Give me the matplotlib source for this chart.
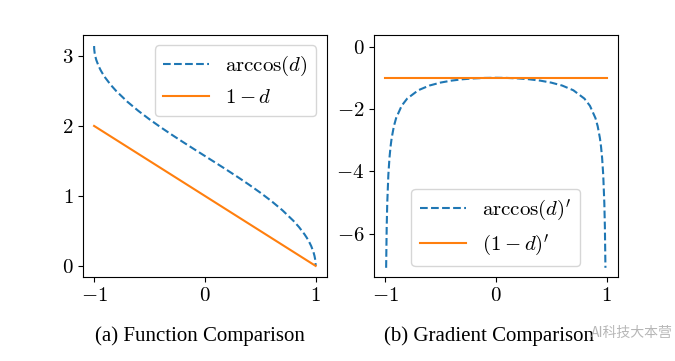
import matplotlib
matplotlib.use("Agg")
import matplotlib.pyplot as plt

plt.rcParams['mathtext.fontset'] = 'cm'
plt.rcParams['font.family'] = ['Liberation Serif', 'DejaVu Serif']

# left panel data
d_func = [-1.0, -0.999, -0.995, -0.99, -0.98, -0.96, -0.94, -0.92, -0.9, -0.85, -0.8,
          -0.7, -0.6, -0.5, -0.4, -0.3, -0.2, -0.1, 0.0, 0.1, 0.2, 0.3, 0.4, 0.5, 0.6,
          0.7, 0.8, 0.85, 0.9, 0.92, 0.94, 0.96, 0.98, 0.99, 0.995, 0.999, 1.0]
arccos_vals = [3.1416, 3.0969, 3.0416, 3.0001, 2.9413, 2.8578, 2.7934, 2.7389, 2.6906,
               2.5868, 2.4981, 2.3462, 2.2143, 2.0944, 1.9823, 1.8755, 1.7722, 1.6710,
               1.5708, 1.4706, 1.3694, 1.2661, 1.1593, 1.0472, 0.9273, 0.7954, 0.6435,
               0.5548, 0.4510, 0.4027, 0.3482, 0.2838, 0.2003, 0.1415, 0.1000, 0.0447, 0.0]
linear_x = [-1.0, 1.0]
linear_vals = [2.0, 0.0]

# right panel data
d_grad = [-0.99, -0.985, -0.98, -0.97, -0.96, -0.95, -0.94, -0.92, -0.9, -0.85, -0.8,
          -0.7, -0.6, -0.5, -0.4, -0.3, -0.2, -0.1, 0.0, 0.1, 0.2, 0.3, 0.4, 0.5, 0.6,
          0.7, 0.8, 0.85, 0.9, 0.92, 0.94, 0.95, 0.96, 0.97, 0.98, 0.985, 0.99]
grad_arccos = [-7.089, -5.795, -5.025, -4.113, -3.571, -3.203, -2.931, -2.552, -2.294,
               -1.898, -1.667, -1.400, -1.250, -1.155, -1.091, -1.048, -1.021, -1.005,
               -1.000, -1.005, -1.021, -1.048, -1.091, -1.155, -1.250, -1.400, -1.667,
               -1.898, -2.294, -2.552, -2.931, -3.203, -3.571, -4.113, -5.025, -5.795, -7.089]
grad_linear_x = [-1.0, 1.0]
grad_linear = [-1.0, -1.0]

captions = ["(a) Function Comparison", "(b) Gradient Comparison"]
xticks = [-1, 0, 1]
xtick_labels = [r'$-1$', r'$0$', r'$1$']
yticks_left = [0, 1, 2, 3]
yticks_left_labels = [r'$0$', r'$1$', r'$2$', r'$3$']
yticks_right = [0, -2, -4, -6]
yticks_right_labels = [r'$0$', r'$-2$', r'$-4$', r'$-6$']

fig = plt.figure(figsize=(6.75, 3.61), dpi=100)
ax1 = fig.add_axes([0.123, 0.233, 0.361, 0.67])
ax2 = fig.add_axes([0.554, 0.233, 0.361, 0.67])

blue = '#1f77b4'
orange = '#ff7f0e'

ax1.plot(d_func, arccos_vals, '--', color=blue, lw=1.5, label=r'$\arccos(d)$')
ax1.plot(linear_x, linear_vals, '-', color=orange, lw=1.5, label=r'$1-d$')
ax1.set_xlim(-1.1, 1.1)
ax1.set_ylim(-0.157, 3.299)
ax1.set_yticks(yticks_left, yticks_left_labels)
ax1.legend(loc='upper right', fontsize=15, handlelength=2.2)

ax2.plot(d_grad, grad_arccos, '--', color=blue, lw=1.5, label=r"$\arccos(d)'$")
ax2.plot(grad_linear_x, grad_linear, '-', color=orange, lw=1.5, label=r"$(1-d)'$")
ax2.set_xlim(-1.1, 1.1)
ax2.set_ylim(-7.38, 0.37)
ax2.set_yticks(yticks_right, yticks_right_labels)
ax2.legend(loc='lower center', fontsize=15, handlelength=2.2, labelspacing=0.45)

for ax in (ax1, ax2):
    ax.set_xticks(xticks, xtick_labels)
    ax.tick_params(labelsize=15)

fig.text(0.296, 0.069, captions[0], ha='center', va='center', fontsize=15)
fig.text(0.725, 0.069, captions[1], ha='center', va='center', fontsize=15)
fig.text(0.936, 0.078, "AI科技大本营", ha='center', va='center', fontsize=10,
         color='#aaaaaa', alpha=0.85, family=['Noto Sans CJK SC', 'DejaVu Sans'])

fig.savefig('out.png', dpi=100)
